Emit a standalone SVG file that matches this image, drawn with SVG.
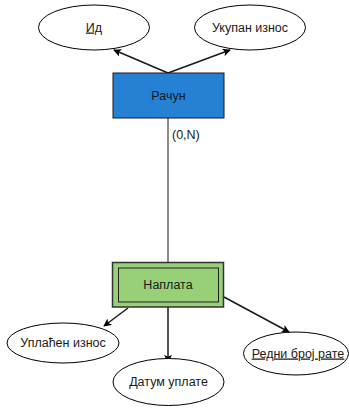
<svg xmlns="http://www.w3.org/2000/svg" width="349" height="408" viewBox="0 0 349 408">
<defs>
<style>
text{font-family:"Liberation Sans",Arial,sans-serif;font-size:12.5px;fill:#1a1a1a;text-anchor:middle}
.attr{fill:#fff;stroke:#000;stroke-width:1}
.edge{stroke:#1a1a1a;stroke-width:1.5;fill:none}
.plain{stroke:#1a1a1a;stroke-width:1;fill:none}
</style>
<marker id="arr" viewBox="0 0 10 10" refX="9" refY="5" markerWidth="8" markerHeight="8" markerUnits="userSpaceOnUse" orient="auto">
<path d="M0,0 L10,5 L0,10 L2.5,5 z" fill="#000"/>
</marker>
</defs>
<rect width="349" height="408" fill="#fff"/>
<g id="connectors">
<line class="edge" x1="168" y1="73" x2="114" y2="50" marker-end="url(#arr)"/>
<line class="edge" x1="168" y1="73" x2="230" y2="50" marker-end="url(#arr)"/>
<line class="plain" x1="168" y1="118" x2="168" y2="262"/>
<text x="172" y="139" style="text-anchor:start">(0,N)</text>
<line class="edge" x1="128" y1="308" x2="104" y2="326" marker-end="url(#arr)"/>
<line class="edge" x1="168" y1="307" x2="168" y2="362" marker-end="url(#arr)"/>
<line class="edge" x1="224" y1="297" x2="289" y2="332" marker-end="url(#arr)"/>
</g>
<g id="id">
<ellipse class="attr" cx="94" cy="27.5" rx="55.5" ry="22.5"/>
<text x="94" y="31.5" text-decoration="underline">Ид</text>
</g>
<g id="ukupan">
<ellipse class="attr" cx="250" cy="27.5" rx="55.5" ry="22.5"/>
<text x="250" y="31.5">Укупан износ</text>
</g>
<g id="racun">
<rect x="113" y="73" width="111" height="45" fill="#2680d4" stroke="#1a1a1a" stroke-width="1"/>
<text x="168.5" y="99.5">Рачун</text>
</g>
<g id="naplata">
<rect x="112.5" y="262.5" width="111" height="44.5" fill="#97d077" stroke="#333" stroke-width="1.5"/>
<rect x="118.5" y="268" width="100" height="34" fill="none" stroke="#222" stroke-width="1"/>
<text x="168" y="289">Наплата</text>
</g>
<g id="uplacen">
<ellipse class="attr" cx="63" cy="343" rx="56" ry="20"/>
<text x="63" y="347">Уплаћен износ</text>
</g>
<g id="datum">
<ellipse class="attr" cx="168.5" cy="382" rx="55.5" ry="23.5"/>
<text x="168.5" y="386">Датум уплате</text>
</g>
<g id="redni">
<ellipse class="attr" cx="296" cy="353.5" rx="52.5" ry="21.5"/>
<text x="298" y="357.5" text-decoration="underline">Редни број рате</text>
</g>
</svg>
